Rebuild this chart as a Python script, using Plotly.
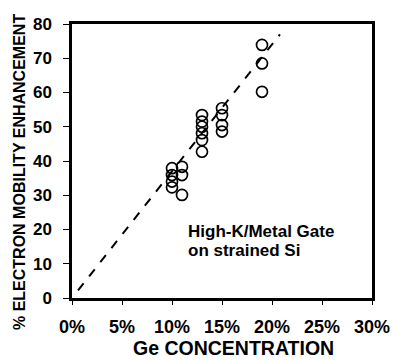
import plotly.graph_objects as go

# Data (Ge concentration in %, electron mobility enhancement in %)
ge_conc = [10, 11, 10, 11, 10, 10, 11,
           13, 13, 13, 13, 13, 13,
           15, 15, 15, 15,
           19, 19, 19]
enhancement = [37.9, 38.3, 35.9, 35.9, 34.0, 32.3, 30.1,
               53.4, 51.5, 50.0, 48.1, 46.1, 42.7,
               55.4, 53.4, 50.5, 48.6,
               73.9, 68.5, 60.2]

fit_x = [0.6, 20.8]
fit_y = [2.2, 77.0]

x_ticks = [0, 5, 10, 15, 20, 25, 30]
x_tick_labels = ["0%", "5%", "10%", "15%", "20%", "25%", "30%"]
y_ticks = [0, 10, 20, 30, 40, 50, 60, 70, 80]

FONT = "Arial, Liberation Sans, sans-serif"

fig = go.Figure()
fig.add_trace(go.Scatter(
    x=fit_x, y=fit_y, mode="lines",
    line=dict(color="black", width=2, dash="dash"),
    showlegend=False, hoverinfo="skip"))
fig.add_trace(go.Scatter(
    x=ge_conc, y=enhancement, mode="markers",
    marker=dict(symbol="circle-open", size=11, color="black", line=dict(width=1.7, color="black")),
    showlegend=False))

# page body has an 8px default margin, so the figure is sized 392x352
fig.update_layout(
    width=392, height=352,
    margin=dict(l=64, r=28, t=16, b=62, autoexpand=False),
    paper_bgcolor="white", plot_bgcolor="white",
    font=dict(family=FONT, color="black"),
    xaxis=dict(range=[0, 30], tickvals=x_ticks, ticktext=x_tick_labels, automargin=False,
               showgrid=False, zeroline=False, showline=True, linecolor="black", linewidth=2.5,
               mirror=True, ticks="outside", ticklen=4, tickcolor="black",
               tickfont=dict(size=18, family=FONT, weight="bold"), ticklabelstandoff=7),
    yaxis=dict(range=[0, 80], tickvals=y_ticks, automargin=False,
               showgrid=False, zeroline=False, showline=True, linecolor="black", linewidth=2.5,
               mirror=True, ticks="outside", ticklen=6, tickcolor="black",
               tickfont=dict(size=17, family=FONT, weight="bold"), ticklabelstandoff=8),
    annotations=[
        dict(text="<b>% ELECTRON MOBILITY ENHANCEMENT</b>", xref="paper", yref="paper",
             x=0, y=0.5, xanchor="center", yanchor="middle", xshift=-53, yshift=-11,
             textangle=-90, showarrow=False, font=dict(size=16, family=FONT)),
        dict(text="<b>Ge CONCENTRATION</b>", xref="paper", yref="paper",
             x=0.5, y=0, xanchor="center", yanchor="middle", xshift=11, yshift=-50,
             showarrow=False, font=dict(size=19.5, family=FONT)),
        dict(text="<b>High-K/Metal Gate</b>", xref="x", yref="y",
             x=11.4, y=19.3, xanchor="left", yanchor="middle",
             showarrow=False, font=dict(size=17, family=FONT)),
        dict(text="<b>on strained Si</b>", xref="x", yref="y",
             x=11.4, y=14.0, xanchor="left", yanchor="middle",
             showarrow=False, font=dict(size=17, family=FONT)),
    ],
)

fig.write_html("out.html")
